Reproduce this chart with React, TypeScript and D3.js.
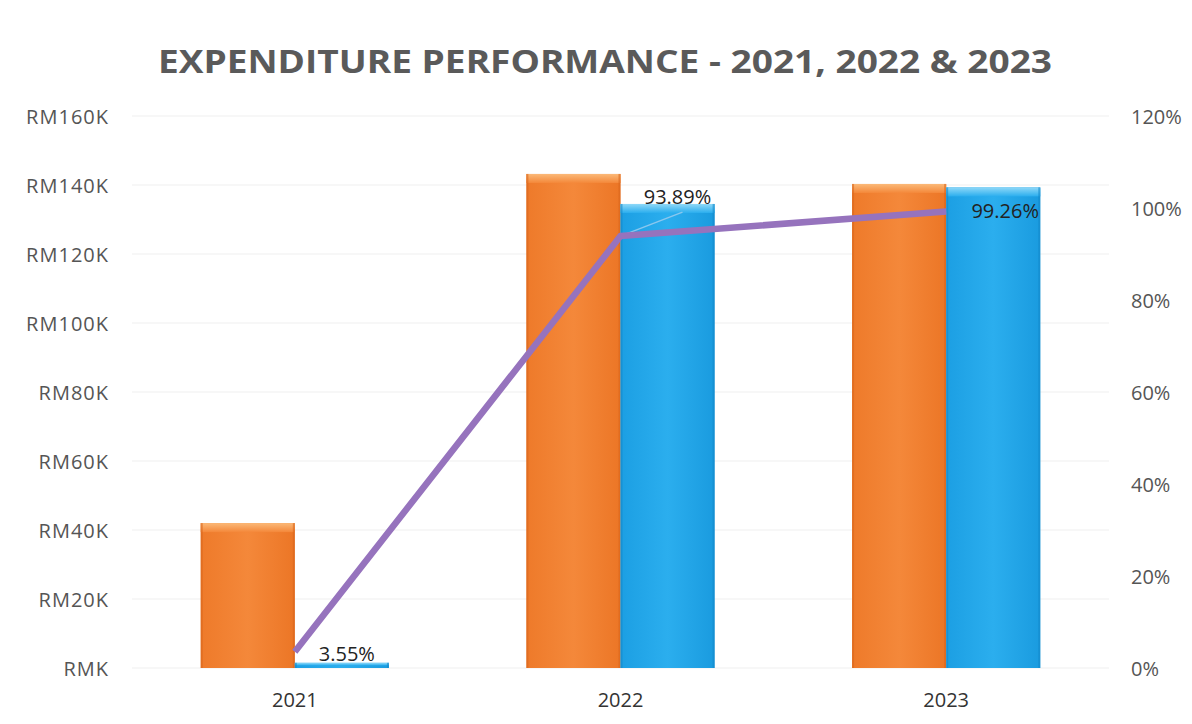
import React from "react";
import * as d3 from "d3";

const categories = ["2021", "2022", "2023"];
const budget = [42, 143.2, 140.3]; // RM K
const spent = [1.5, 134.5, 139.3]; // RM K
const ratePct = [3.55, 93.89, 99.26];
const leftTicks = [0, 20, 40, 60, 80, 100, 120, 140, 160];
const rightTicks = [0, 20, 40, 60, 80, 100, 120];
const title = "EXPENDITURE PERFORMANCE - 2021, 2022 & 2023";

const W = 1192, H = 724;
const plot = { left: 132, right: 1109, top: 116, bottom: 668 };
const FONT = "'Open Sans', 'Noto Sans', sans-serif";

export default function App() {
  const x0 = d3.scaleBand<string>().domain(categories).range([plot.left, plot.right]).padding(0);
  const bw = x0.bandwidth();
  const barW = bw * 0.289;
  const yL = d3.scaleLinear().domain([0, 160]).range([plot.bottom, plot.top]);
  const yR = d3.scaleLinear().domain([0, 120]).range([plot.bottom, plot.top]);
  const cx = (c: string) => (x0(c) as number) + bw / 2;

  const line = d3
    .line<number>()
    .x((_, i) => cx(categories[i]))
    .y((d) => yR(d));

  const labelOffsets = [
    { dx: 52, dy: 9 },
    { dx: 57, dy: -32 },
    { dx: 59, dy: 7 },
  ];

  const bar = (x: number, y: number, w: number, h: number, kind: "o" | "b", key: string) => {
    const bevel = Math.min(9, h / 2);
    return (
      <g key={key}>
        <rect x={x} y={y} width={w} height={h} fill={`url(#${kind}Main)`} />
        {h > 4 && (
          <>
            <rect x={x} y={y} width={w} height={bevel} fill={`url(#${kind}Top)`} />
            <rect x={x} y={y} width={2} height={h} fill={kind === "o" ? "#D9661C" : "#1489C9"} opacity={0.6} />
            <rect x={x + w - 2} y={y} width={2} height={h} fill={kind === "o" ? "#D9661C" : "#1489C9"} opacity={0.6} />
          </>
        )}
      </g>
    );
  };

  return (
    <svg width={W} height={H} style={{ display: "block", position: "absolute", left: 0, top: 0, background: "#fff" }}>
      <defs>
        <linearGradient id="oMain" x1="0" x2="1" y1="0" y2="0">
          <stop offset="0" stopColor="#EE7A2A" />
          <stop offset="0.5" stopColor="#F4883A" />
          <stop offset="1" stopColor="#EC7626" />
        </linearGradient>
        <linearGradient id="bMain" x1="0" x2="1" y1="0" y2="0">
          <stop offset="0" stopColor="#1C9FE3" />
          <stop offset="0.5" stopColor="#2BAEEE" />
          <stop offset="1" stopColor="#1A9BDF" />
        </linearGradient>
        <linearGradient id="oTop" x1="0" x2="0" y1="0" y2="1">
          <stop offset="0" stopColor="#FBB978" />
          <stop offset="1" stopColor="#F4883A" />
        </linearGradient>
        <linearGradient id="bTop" x1="0" x2="0" y1="0" y2="1">
          <stop offset="0" stopColor="#8ED8F8" />
          <stop offset="1" stopColor="#2BAEEE" />
        </linearGradient>
      </defs>
      <rect width={W} height={H} fill="#fff" />
      <text
        x={605}
        y={73}
        textAnchor="middle"
        fontFamily={FONT}
        fontWeight={700}
        fontSize={32}
        fill="#5a5a5a"
        textLength={894}
        lengthAdjust="spacingAndGlyphs"
      >
        {title}
      </text>

      {leftTicks.map((t) => (
        <line key={"g" + t} x1={plot.left} x2={plot.right} y1={yL(t)} y2={yL(t)} stroke="#efefef" strokeWidth={1} />
      ))}

      {leftTicks.map((t) => (
        <text key={"l" + t} x={109} y={yL(t) + 7.5} textAnchor="end" fontFamily={FONT} fontSize={20} letterSpacing={1} fill="#555">
          {`RM${t === 0 ? "" : t}K`}
        </text>
      ))}
      {rightTicks.map((t) => (
        <text key={"r" + t} x={1131} y={yR(t) + 7.5} textAnchor="start" fontFamily={FONT} fontSize={20} fill="#555">
          {`${t}%`}
        </text>
      ))}
      {categories.map((c) => (
        <text key={"x" + c} x={cx(c)} y={707} textAnchor="middle" fontFamily={FONT} fontSize={20} fill="#333">
          {c}
        </text>
      ))}

      {categories.map((c, i) => {
        const center = cx(c);
        const yb = yL(budget[i]);
        const ys = yL(spent[i]);
        return (
          <g key={"b" + c}>
            {bar(center - barW, yb, barW, plot.bottom - yb, "o", "o" + c)}
            {bar(center, ys, barW, plot.bottom - ys, "b", "s" + c)}
          </g>
        );
      })}

      {/* leader line for 2022 label */}
      <line x1={cx(categories[1])} y1={yR(ratePct[1])} x2={cx(categories[1]) + 62} y2={yR(ratePct[1]) - 24} stroke="#8ac7ee" strokeWidth={1.5} />

      <path d={line(ratePct) || ""} fill="none" stroke="#9673BD" strokeWidth={6.5} strokeLinejoin="round" />

      {categories.map((c, i) => (
        <text
          key={"p" + c}
          x={cx(c) + labelOffsets[i].dx}
          y={yR(ratePct[i]) + labelOffsets[i].dy}
          textAnchor="middle"
          fontFamily={FONT}
          fontSize={20}
          fill="#222"
        >
          {`${ratePct[i].toFixed(2)}%`}
        </text>
      ))}
    </svg>
  );
}
